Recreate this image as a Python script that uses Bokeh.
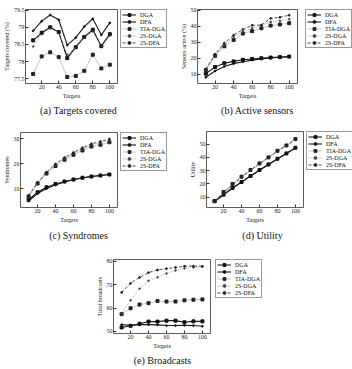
from bokeh.plotting import figure
from bokeh.layouts import column, row
from bokeh.models import (Legend, LegendItem, FixedTicker, Range1d, Label,
                          CustomJSTickFormatter, Spacer)
from bokeh.embed import file_html
from bokeh.resources import INLINE

# Number of targets (x values shared by every panel)
targets = [10, 20, 30, 40, 50, 60, 70, 80, 90, 100]
series_names = ["DGA", "DFA", "TIA-DGA", "2S-DGA", "2S-DFA"]
x_ticks = [20, 40, 60, 80, 100]

# (a) Targets covered (%)
a_dga = [78.62, 78.84, 79.00, 78.86, 78.10, 78.42, 78.72, 78.93, 78.45, 78.80]
a_dfa = [78.90, 79.18, 79.36, 79.22, 78.48, 78.70, 79.02, 79.25, 78.78, 79.13]
a_tia_dga = [77.64, 78.15, 78.27, 78.13, 77.55, 77.58, 77.73, 78.20, 77.80, 77.91]
a_2s_dga = [78.44, 78.80, 78.98, 78.84, 78.20, 78.42, 78.69, 78.88, 78.44, 78.76]
a_2s_dfa = [78.60, 78.82, 79.00, 78.85, 78.12, 78.42, 78.71, 78.92, 78.46, 78.79]
a_ticks = [77.5, 78, 78.5, 79, 79.5]

# (b) Sensors active (%)
b_dga = [10.3, 14.5, 16.8, 18.0, 19.0, 19.5, 20.0, 20.4, 20.7, 21.0]
b_dfa = [8.0, 12.0, 14.8, 16.6, 17.8, 18.8, 19.6, 20.2, 20.6, 20.9]
b_tia_dga = [12.5, 21.5, 27.5, 31.5, 35.5, 37.0, 38.8, 40.5, 41.2, 42.0]
b_2s_dga = [12.6, 22.0, 28.5, 33.5, 36.5, 39.0, 40.5, 42.8, 43.5, 44.5]
b_2s_dfa = [13.2, 22.5, 29.5, 34.5, 38.0, 40.7, 40.8, 45.0, 45.7, 47.0]
b_ticks = [10, 20, 30, 40, 50]

# (c) Syndromes
c_dga = [5.5, 8.5, 10.5, 11.8, 12.8, 13.6, 14.3, 14.8, 15.2, 15.6]
c_dfa = [5.0, 8.0, 10.0, 11.4, 12.6, 13.5, 14.2, 14.8, 15.2, 15.6]
c_tia_dga = [6.8, 12.0, 16.0, 19.0, 21.5, 23.5, 25.2, 26.8, 27.5, 28.5]
c_2s_dga = [7.0, 12.2, 16.3, 19.5, 22.0, 24.0, 25.8, 27.5, 28.3, 29.2]
c_2s_dfa = [7.2, 12.3, 16.5, 19.8, 22.4, 24.4, 26.3, 27.9, 28.8, 29.8]
c_ticks = [10, 20, 30]

# (d) Utility
d_dga = [7.0, 12.0, 17.0, 21.5, 26.0, 30.5, 34.7, 39.0, 43.0, 47.3]
d_dfa = [6.8, 11.8, 16.9, 21.4, 25.9, 30.4, 34.6, 38.9, 42.9, 47.2]
d_tia_dga = [7.2, 14.0, 20.0, 25.5, 30.5, 35.5, 40.0, 45.0, 49.0, 53.8]
d_2s_dga = [7.0, 13.0, 19.0, 25.0, 30.0, 35.0, 39.8, 44.5, 48.7, 53.2]
d_2s_dfa = [7.1, 13.5, 19.5, 25.2, 30.3, 35.3, 40.0, 44.8, 48.9, 53.5]
d_ticks = [10, 20, 30, 40, 50]

# (e) Total broadcasts
e_dga = [51.7, 52.4, 53.3, 54.2, 54.2, 54.6, 54.6, 53.9, 54.3, 54.3]
e_dfa = [52.9, 52.6, 52.9, 52.9, 52.8, 52.5, 52.5, 52.6, 52.5, 52.2]
e_tia_dga = [57.4, 59.9, 61.5, 62.1, 63.0, 62.8, 62.8, 63.3, 63.6, 63.7]
e_2s_dga = [57.8, 63.3, 68.3, 71.7, 73.2, 74.8, 76.1, 77.0, 77.4, 77.7]
e_2s_dfa = [66.7, 70.6, 73.1, 75.2, 76.3, 76.9, 77.4, 77.9, 78.0, 77.9]
e_ticks = [50, 60, 70, 80]

SERIF = "Liberation Serif"

STYLES = {
    "DGA":     dict(color="#1a1a1a", width=1.1, dash="solid", marker="square", size=3.0, mcolor="#111111"),
    "DFA":     dict(color="#1a1a1a", width=1.1, dash="solid", marker="circle", size=1.8, mcolor="#111111"),
    "TIA-DGA": dict(color="#a0a0a0", width=0.6, dash="solid", marker="square", size=3.0, mcolor="#222222"),
    "2S-DGA":  dict(color="#8a8a8a", width=0.7, dash="1 1", marker="circle", size=1.6, mcolor="#444444"),
    "2S-DFA":  dict(color="#222222", width=0.8, dash="3 2", marker="circle", size=1.8, mcolor="#222222"),
}


def add_series(p, name, values, visible=True):
    """Draw one series (line + markers) and return its two renderers."""
    st = STYLES[name]
    ln = p.line(targets, values, line_color=st["color"], line_width=st["width"],
                line_dash=st["dash"], visible=visible)
    mk = p.scatter(targets, values, marker=st["marker"], size=st["size"],
                   fill_color=st["mcolor"], line_color=st["mcolor"], visible=visible)
    return ln, mk


def plot_fig(series, y_range, y_ticks, y_label, height, left, frame_w, top, bottom):
    p = figure(width=left + frame_w + 3, height=height, output_backend="svg",
               toolbar_location=None, x_range=Range1d(1, 109),
               y_range=Range1d(*y_range),
               min_border_left=left, min_border_right=3,
               min_border_top=top, min_border_bottom=bottom)
    p.background_fill_color = "white"
    p.border_fill_color = "white"
    p.outline_line_color = "#333333"
    p.outline_line_width = 0.8
    p.grid.visible = False

    fmt = CustomJSTickFormatter(code="return String(tick);")
    for ax, ticks in ((p.xaxis, x_ticks), (p.yaxis, y_ticks)):
        ax.ticker = FixedTicker(ticks=ticks)
        ax.formatter = fmt
        ax.axis_line_color = None
        ax.major_tick_in = 3
        ax.major_tick_out = 0
        ax.major_tick_line_color = "#333333"
        ax.minor_tick_line_color = None
        ax.major_label_text_font = SERIF
        ax.major_label_text_font_size = "6px"
        ax.major_label_text_color = "#222222"
        ax.major_label_standoff = 1
        ax.axis_label_text_font = SERIF
        ax.axis_label_text_font_size = "6px"
        ax.axis_label_text_font_style = "normal"
        ax.axis_label_text_color = "#222222"
        ax.axis_label_standoff = 1
    p.xaxis.axis_label = "Targets"
    p.yaxis.axis_label = y_label

    for name, values in zip(series_names, series):
        add_series(p, name, values)
    return p


def legend_fig(series, width, height, x_off, y_top):
    """Legend box in its own canvas; hidden copies of the series supply the glyph styles."""
    p = figure(width=width, height=height, output_backend="svg",
               toolbar_location=None, x_range=Range1d(1, 109), y_range=Range1d(0, 1),
               x_axis_type=None, y_axis_type=None,
               min_border_left=x_off, min_border_right=0,
               min_border_top=y_top, min_border_bottom=0)
    p.outline_line_color = None
    p.grid.visible = False
    p.background_fill_color = "white"
    p.border_fill_color = "white"
    items = []
    for name, values in zip(series_names, series):
        ln, mk = add_series(p, name, values, visible=False)
        items.append(LegendItem(label=name, renderers=[ln, mk]))
    legend = Legend(items=items, location="top_left")
    legend.label_text_font = SERIF
    legend.label_text_font_size = "6px"
    legend.label_text_line_height = 1.0
    legend.label_text_color = "#111111"
    legend.glyph_width = 14
    legend.glyph_height = 7
    legend.label_height = 7
    legend.label_width = 22
    legend.label_standoff = 4
    legend.spacing = 0
    legend.padding = 1
    legend.margin = 0
    legend.inactive_fill_alpha = 0
    legend.border_line_color = "#333333"
    legend.border_line_width = 0.8
    legend.background_fill_alpha = 1
    p.add_layout(legend, "center")
    return p


def caption_fig(text, width, height, cx, cy):
    p = figure(width=width, height=height, output_backend="svg",
               toolbar_location=None, x_range=Range1d(0, width), y_range=Range1d(height, 0),
               x_axis_type=None, y_axis_type=None,
               min_border_left=0, min_border_right=0,
               min_border_top=0, min_border_bottom=0)
    p.outline_line_color = None
    p.grid.visible = False
    p.add_layout(Label(x=cx, y=cy, text=text, text_align="center",
                       text_baseline="middle", text_font=SERIF,
                       text_font_size="10px", text_color="#111111"))
    return p


def panel(series, y_range, y_ticks, y_label, caption, total_w, plot_h, cap_h,
          left, frame_w, top, bottom, leg_off, leg_top, cap_cx, cap_cy):
    pf = plot_fig(series, y_range, y_ticks, y_label, plot_h, left, frame_w, top, bottom)
    lw = total_w - (left + frame_w + 3)
    lf = legend_fig(series, lw, plot_h, leg_off, leg_top)
    cf = caption_fig(caption, total_w, cap_h, cap_cx, cap_cy)
    return column(row(pf, lf), cf)


panel_a = panel([a_dga, a_dfa, a_tia_dga, a_2s_dga, a_2s_dfa], (77.36, 79.52), a_ticks,
                "Targets covered (%)", "(a) Targets covered", 176, 101, 22,
                20, 97, 5, 15, 0, 9, 78, 9)
panel_b = panel([b_dga, b_dfa, b_tia_dga, b_2s_dga, b_2s_dfa], (4.1, 50.6), b_ticks,
                "Sensors active (%)", "(b) Active sensors", 176, 101, 22,
                21, 100, 5, 15, 5, 9, 81, 9)
panel_c = panel([c_dga, c_dfa, c_tia_dga, c_2s_dga, c_2s_dfa], (2.4, 32.4), c_ticks,
                "Syndromes", "(c) Syndromes", 176, 102, 23,
                20, 97, 5, 15, 0, 9, 78, 10)
panel_d = panel([d_dga, d_dfa, d_tia_dga, d_2s_dga, d_2s_dfa], (2.3, 59.5), d_ticks,
                "Utility", "(d) Utility", 176, 102, 23,
                30, 97, 6, 14, 0, 8, 86, 10)
panel_e = panel([e_dga, e_dfa, e_tia_dga, e_2s_dga, e_2s_dfa], (49.1, 80.8), e_ticks,
                "Total broadcasts", "(e) Broadcasts", 180, 103, 18,
                28, 97, 6, 15, 2, 11, 77, 9)

layout = column(
    row(panel_a, panel_b),
    row(panel_c, panel_d),
    row(Spacer(width=85, height=121), panel_e),
)

open("out.html", "w").write(file_html(layout, INLINE))
